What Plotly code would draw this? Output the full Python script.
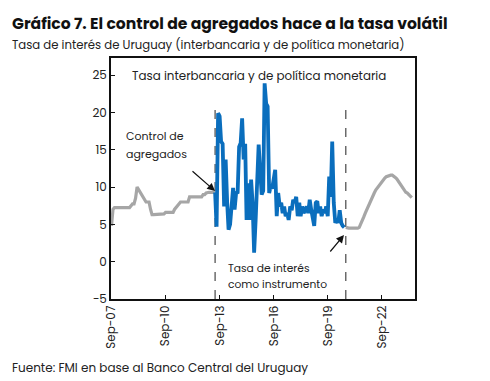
import plotly.graph_objects as go
import pandas as pd

# ---- data ----
# Policy rate before aggregates control (Sep-2007 .. Jun-2013), monthly
gray_left_start = "2007-09-01"
gray_left = [4.8, 7.0, 7.25, 7.25, 7.25, 7.25, 7.25, 7.25, 7.25, 7.25,
             7.25, 7.25, 7.25, 7.5, 7.75, 7.75, 8.5, 10.0, 9.7, 9.4,
             9.0, 8.7, 8.3, 8.0, 8.0, 8.0, 7.0, 6.3, 6.3, 6.3,
             6.3, 6.3, 6.3, 6.3, 6.3, 6.4, 6.6, 6.6, 6.6, 6.6,
             6.6, 6.6, 7.0, 7.3, 7.6, 7.8, 8.0, 8.0, 8.0, 8.0,
             8.0, 8.0, 8.7, 8.7, 8.7, 8.7, 8.7, 8.7, 8.7, 8.7,
             8.7, 9.0, 9.0, 9.2, 9.3, 9.3, 9.3, 9.3, 9.3, 9.3]

# Interbank rate during aggregates control (Jun-2013 .. Aug-2020), monthly
blue_start = "2013-06-01"
blue = [9.3, 4.7, 19.9, 19.5, 16.1, 15.8, 7.4, 13.7, 7.9, 4.3,
        5.0, 7.9, 9.9, 7.0, 9.2, 9.3, 15.4, 15.9, 19.2, 13.7,
        15.8, 5.6, 10.5, 5.6, 11.0, 7.9, 1.2, 5.6, 11.4, 15.7,
        12.3, 9.0, 9.5, 23.9, 21.2, 20.8, 9.2, 10.1, 9.8, 11.4,
        12.3, 6.1, 9.2, 7.4, 7.9, 6.5, 7.4, 6.1, 6.5, 5.6,
        7.4, 6.9, 8.3, 7.9, 8.7, 6.1, 7.9, 6.1, 7.4, 6.5,
        7.0, 7.4, 6.5, 8.3, 7.0, 5.6, 4.8, 7.9, 8.1, 6.5,
        7.4, 6.1, 7.0, 6.5, 7.4, 6.1, 11.4, 8.7, 16.1, 7.9,
        5.2, 5.6, 5.2, 6.9, 5.2, 4.8, 4.6]

# Policy rate after return to rate instrument (Sep-2020 .. May-2024), monthly
gray_right_start = "2020-09-01"
gray_right = [4.6, 4.5, 4.5, 4.5, 4.5, 4.4, 4.4, 4.5, 4.5, 4.6,
              5.0, 5.5, 6.0, 6.5, 7.0, 7.4, 8.0, 8.5, 8.9, 9.2,
              9.6, 9.9, 10.1, 10.4, 10.7, 11.0, 11.2, 11.4, 11.5, 11.6,
              11.6, 11.6, 11.5, 11.3, 11.1, 10.8, 10.4, 10.1, 9.8, 9.5,
              9.3, 9.2, 9.0, 8.8, 8.6]

tick_vals = ["2007-09-01", "2010-09-01", "2013-09-01", "2016-09-01", "2019-09-01", "2022-09-01"]
tick_text = ["Sep-07", "Sep-10", "Sep-13", "Sep-16", "Sep-19", "Sep-22"]
y_ticks = [-5, 0, 5, 10, 15, 20, 25]
regime_changes = ["2013-06-01", "2020-09-01"]

def dates(start, n):
    return pd.date_range(start, periods=n, freq="MS")

GRAY = "#A6A6A6"
BLUE = "#0A6EBD"
FONT = "Poppins, Open Sans, Lato, sans-serif"

fig = go.Figure()
fig.add_trace(go.Scatter(x=dates(gray_left_start, len(gray_left)), y=gray_left,
                         mode="lines", line=dict(color=GRAY, width=3.2), hoverinfo="skip"))
fig.add_trace(go.Scatter(x=dates(gray_right_start, len(gray_right)), y=gray_right,
                         mode="lines", line=dict(color=GRAY, width=3.2), hoverinfo="skip"))
fig.add_trace(go.Scatter(x=dates(blue_start, len(blue)), y=blue,
                         mode="lines", line=dict(color=BLUE, width=3.8), hoverinfo="skip"))

for d in regime_changes:
    fig.add_shape(type="line", x0=d, x1=d, y0=-5, y1=21.5, xref="x", yref="y",
                  line=dict(color="#555555", width=1.3, dash="dash"), layer="below")

L, R, T, B = 111, 415, 58, 299
W, H = R - L, B - T
def px(x):
    return (x - L) / W
def py(y):
    return (B - y) / H

def label(text, x, y, size, bold=False, anchor="left"):
    return dict(text=f"<b>{text}</b>" if bold else text,
                x=px(x), y=py(y), xref="paper", yref="paper", xanchor=anchor, yanchor="middle",
                showarrow=False, align="left",
                font=dict(size=size, color="#111111" if bold else "#222222", family=FONT))

ann = [
    label("Gráfico 7. El control de agregados hace a la tasa volátil", 10, 23, 15.6, bold=True),
    label("Tasa de interés de Uruguay (interbancaria y de política monetaria)", 10, 45, 11.7),
    label("Fuente: FMI en base al Banco Central del Uruguay", 10, 367, 12),
    label("Tasa interbancaria y de política monetaria", 130, 76, 11.9),
    label("Control de", 124, 136, 11),
    label("agregados", 124, 154, 11),
    label("Tasa de interés", 226, 268, 10.7),
    label("como instrumento", 226, 284, 10.7),
]
# arrows
ann.append(dict(text="", x=px(215), y=py(191), xref="paper", yref="paper",
                ax=-24, ay=-21, showarrow=True, arrowhead=2, arrowsize=1.3, arrowwidth=1.2,
                arrowcolor="#111111"))
ann.append(dict(text="", x=px(344), y=py(235), xref="paper", yref="paper",
                ax=-15, ay=18, showarrow=True, arrowhead=2, arrowsize=1.3, arrowwidth=1.2,
                arrowcolor="#111111"))

fig.update_layout(
    width=490, height=381,
    margin=dict(l=L, r=490 - R, t=T, b=381 - B),
    paper_bgcolor="white", plot_bgcolor="white",
    showlegend=False,
    annotations=ann,
    font=dict(family=FONT, size=12, color="#222222"),
)
fig.update_xaxes(range=["2007-08-22", "2024-07-05"], tickvals=tick_vals, ticktext=tick_text,
                 tickangle=-90, ticks="inside", ticklen=4, tickcolor="#111111",
                 showline=True, linecolor="#111111", linewidth=1.5, mirror=True,
                 showgrid=False, zeroline=False, automargin=False,
                 tickfont=dict(size=12, color="#222222"))
fig.update_yaxes(range=[-5, 27.3], tickvals=y_ticks, ticks="inside", ticklen=4,
                 tickcolor="#111111", showline=True, linecolor="#111111", linewidth=1.5,
                 mirror=True, showgrid=False, zeroline=False, automargin=False,
                 tickfont=dict(size=12, color="#222222"))

fig.write_html("out.html", config={"displayModeBar": False},
               post_script="document.body.style.margin='0';document.body.style.overflow='hidden';")
